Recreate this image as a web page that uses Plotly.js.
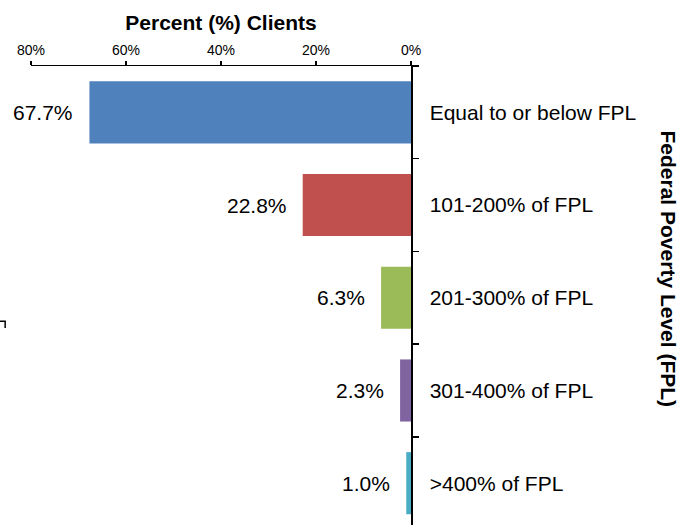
<!DOCTYPE html>
<html>
<head>
<meta charset="utf-8">
<script src="https://cdn.plot.ly/plotly-3.0.1.min.js"></script>
<style>html,body{margin:0;padding:0;background:#fff;}#chart{width:684px;height:525px;}</style>
</head>
<body>
<div id="chart"></div>
<script>
const categories = ["Equal to or below FPL", "101-200% of FPL", "201-300% of FPL", "301-400% of FPL", ">400% of FPL"];
const percents = [67.7, 22.8, 6.3, 2.3, 1.0];
const barColors = ["#4F81BD", "#C0504D", "#9BBB59", "#8064A2", "#4BACC6"];
const xTickVals = [0, 20, 40, 60, 80];
const xTitle = "Percent (%) Clients";
const yTitle = "Federal Poverty Level (FPL)";

const FONT = "Liberation Sans, Arial, sans-serif";

const trace = {
  type: "bar",
  orientation: "h",
  x: percents,
  y: categories,
  marker: {color: barColors, line: {width: 0}},
  hoverinfo: "skip"
};

const annotations = percents.map((v, i) => ({
  x: v, y: categories[i], xref: "x", yref: "y",
  text: v.toFixed(1) + "%",
  showarrow: false, xanchor: "right", yanchor: "middle",
  xshift: -14,
  font: {family: FONT, size: 21, color: "#000"}
}));

annotations.push({
  xref: "paper", yref: "paper", x: 1, y: 0.5,
  xshift: 257, yshift: 27,
  text: "<b>" + yTitle + "</b>", textangle: 90,
  showarrow: false, xanchor: "center", yanchor: "middle",
  font: {family: FONT, size: 21, color: "#000"}
});

const layout = {
  width: 684, height: 525,
  margin: {l: 31, r: 273, t: 66, b: 0, pad: 0},
  paper_bgcolor: "#fff", plot_bgcolor: "#fff",
  showlegend: false,
  bargap: 0.33,
  font: {family: FONT, color: "#000"},
  xaxis: {
    side: "top",
    range: [80, 0],
    tickvals: xTickVals,
    ticktext: xTickVals.map(v => v + "%"),
    ticks: "outside", ticklen: 4, tickwidth: 1.5, tickcolor: "#000",
    showline: true, linecolor: "#000", linewidth: 1.5,
    showgrid: false, zeroline: false,
    tickfont: {family: FONT, size: 14, color: "#000"},
    title: {text: "<b>" + xTitle + "</b>", font: {family: FONT, size: 21, color: "#000"}, standoff: 5}
  },
  yaxis: {
    type: "category",
    side: "right",
    range: [4.451, -0.5],
    tickson: "boundaries",
    ticks: "outside", ticklen: 6, tickwidth: 1.5, tickcolor: "#000",
    showline: true, linecolor: "#000", linewidth: 1.5,
    showgrid: false, zeroline: false,
    ticklabelstandoff: 13,
    tickfont: {family: FONT, size: 21, color: "#000"}
  },
  annotations: annotations,
  shapes: [{
    type: "path", xref: "paper", yref: "paper",
    path: "M -0.083 0.444 L -0.068 0.444 L -0.068 0.429",
    line: {color: "#000", width: 1.5}
  }]
};

Plotly.newPlot("chart", [trace], layout, {staticPlot: true, displayModeBar: false});
</script>
</body>
</html>
